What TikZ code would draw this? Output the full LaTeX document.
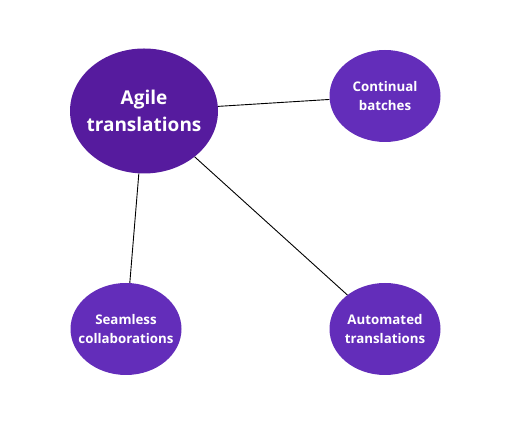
\documentclass[tikz,border=0pt]{standalone}
\usepackage{fontspec}
\setmainfont{Open Sans}
\usepackage{tikz}
\usetikzlibrary{shapes.geometric}
\definecolor{hubpurple}{HTML}{561B9E}
\definecolor{leafpurple}{HTML}{632DBA}

\begin{document}
\begin{tikzpicture}[x=1pt, y=1pt,
                    every node/.style = {ellipse, text=white, align=center, font=\bfseries},
                    hub/.style = {fill=hubpurple, inner sep=-6pt, minimum width=148pt, minimum height=125pt, font=\bfseries\fontsize{19}{27}\selectfont},
                    leaf/.style = {fill=leafpurple, inner sep=-12pt, minimum width=111pt, minimum height=92pt, font=\bfseries\fontsize{13.3}{19.5}\selectfont}]
                    \useasboundingbox (0,0) rectangle (512,425);
                    \node[hub] (A) at (144,314) {Agile\\translations};
                    \node[leaf] (C) at (385,329) {Continual\\batches};
                    \node[leaf] (S) at (126,96) {Seamless\\collaborations};
                    \node[leaf] (T) at (385,96) {Automated\\translations};
                    \draw[line width=0.9pt] (A) -- (C);
                    \draw[line width=0.9pt] (A) -- (S);
                    \draw[line width=0.9pt] (A) -- (T);
                \end{tikzpicture}
\end{document}
